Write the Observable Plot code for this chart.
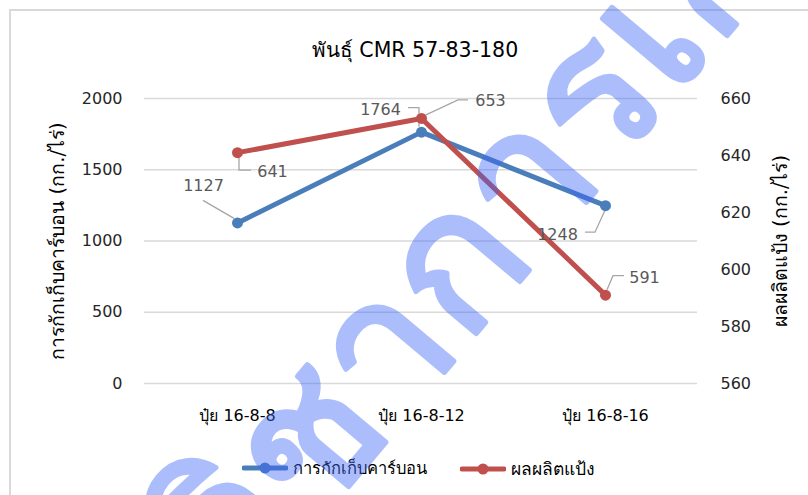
<!DOCTYPE html>
<html>
<head>
<meta charset="utf-8">
<script src="https://cdn.jsdelivr.net/npm/d3@7"></script>
<script src="https://cdn.jsdelivr.net/npm/@observablehq/plot@0.6"></script>
<style>
  html, body { margin: 0; padding: 0; background: #fff; }
  #wrap { position: relative; width: 808px; height: 495px; overflow: hidden; font-family: "DejaVu Sans", "Noto Sans", sans-serif; }
  #frame { position: absolute; left: 9px; top: 9px; width: 900px; height: 600px; border: 2px solid #d9d9d9; box-sizing: border-box; }
  #title { position: absolute; top: 33px; left: 415px; transform: translateX(-50%); font-size: 20.5px; color: #000; white-space: nowrap; }
  #chart { position: absolute; left: 0; top: 80px; }
  #legend { position: absolute; top: 455px; left: 0; width: 808px; height: 26px; font-size: 16.5px; color: #000; white-space: nowrap; }
  #legend .item { position: absolute; top: 0; display: flex; align-items: center; }
  #legend svg { margin-right: 5px; }
  #wm { position: absolute; left: 0; top: 0; pointer-events: none; }
</style>
</head>
<body>
<div id="wrap">
  <div id="frame"></div>
  <div id="title"></div>
  <div id="chart"></div>
  <div id="legend"></div>
  <svg id="wm" width="808" height="495"></svg>
</div>
<script>
// ---- data ----
const categories = ["ปุ๋ย 16-8-8", "ปุ๋ย 16-8-12", "ปุ๋ย 16-8-16"];
const carbon = [1127, 1764, 1248];       // การกักเก็บคาร์บอน (left axis)
const starch = [641, 653, 591];          // ผลผลิตแป้ง (right axis)
const leftTicks = [0, 500, 1000, 1500, 2000];
const rightTicks = [560, 580, 600, 620, 640, 660];
const seriesNames = ["การกักเก็บคาร์บอน", "ผลผลิตแป้ง"];
const titleText = "พันธุ์ CMR 57-83-180";
const leftTitle = "การกักเก็บคาร์บอน (กก./ไร่)";
const rightTitle = "ผลผลิตแป้ง (กก./ไร่)";
const watermarkText = "วิชาการเกษตร";

// ---- styles (pixel offsets of data labels & leader lines) ----
const colors = ["#4a7ebb", "#c0504d"];
const legendLeft = [242, 460];
const carbonLabelStyle = [
  {dx: -34, dy: -37, leader: [[-34, -22], [-3, -4]]},
  {dx: -41, dy: -22, leader: [[-13, -24], [-2, -24], [-2, -5]]},
  {dx: -48, dy: 29, leader: [[-20, 27], [-10, 27], [0, 5]]}
];
const starchLabelStyle = [
  {dx: 35, dy: 19, leader: [[2, 5], [2, 18], [14, 18]]},
  {dx: 69, dy: -18, leader: [[47, -18], [37, -18], [5, -3]]},
  {dx: 39, dy: -17, leader: [[19, -19], [8, -19], [2, -5]]}
];

// right axis values mapped into left-axis units
const toLeft = d3.scaleLinear().domain([560, 660]).range([0, 2000]);

const rows = [];
categories.forEach((c, i) => {
  rows.push({cat: c, series: seriesNames[0], value: carbon[i], y: carbon[i], i, s: 0});
});
categories.forEach((c, i) => {
  rows.push({cat: c, series: seriesNames[1], value: starch[i], y: toLeft(starch[i]), i, s: 1});
});
const styleOf = d => (d.s === 0 ? carbonLabelStyle : starchLabelStyle)[d.i];

document.getElementById("title").textContent = titleText;

function leaderMark(index, scales) {
  const g = d3.create("svg:g");
  rows.forEach(d => {
    const x0 = scales.x(d.cat), y0 = scales.y(d.y);
    const pts = styleOf(d).leader.map(([a, b]) => [x0 + a, y0 + b]);
    g.append("path")
      .attr("d", d3.line()(pts))
      .attr("fill", "none")
      .attr("stroke", "#a6a6a6")
      .attr("stroke-width", 1.3);
  });
  return g.node();
}

const labelMarks = rows.map(d => Plot.text([d], {
  x: "cat", y: "y", text: r => String(r.value),
  dx: styleOf(d).dx, dy: styleOf(d).dy,
  fill: "#595959", fontSize: 16
}));

const chart = Plot.plot({
  width: 808,
  height: 365,
  marginTop: 18,
  marginBottom: 62,
  marginLeft: 144,
  marginRight: 111,
  style: {fontFamily: "DejaVu Sans, Noto Sans, sans-serif", background: "transparent", overflow: "visible"},
  x: {type: "point", domain: categories, padding: 0.5},
  y: {domain: [0, 2000]},
  marks: [
    Plot.gridY(leftTicks, {stroke: "#d9d9d9", strokeOpacity: 1, strokeWidth: 1.6}),
    Plot.axisY(leftTicks, {anchor: "left", tickSize: 0, tickPadding: 22, fontSize: 16, fill: "#262626", label: null,
      tickFormat: d => String(d)}),
    Plot.axisY(rightTicks.map(toLeft), {anchor: "right", tickSize: 0, tickPadding: 23, fontSize: 16, fill: "#262626", label: null,
      tickFormat: d => String(Math.round(toLeft.invert(d)))}),
    Plot.axisX({tickSize: 0, tickPadding: 26, fontSize: 16, fill: "#000", label: null}),
    Plot.text([leftTitle], {frameAnchor: "left", textAnchor: "middle", dx: -87, rotate: -90, fontSize: 19.5, fill: "#000"}),
    Plot.text([rightTitle], {frameAnchor: "right", textAnchor: "middle", dx: 83, rotate: -90, fontSize: 19.5, fill: "#000"}),
    leaderMark,
    Plot.line(rows.filter(d => d.s === 0), {x: "cat", y: "y", stroke: colors[0], strokeWidth: 5, strokeLinecap: "round", strokeLinejoin: "round"}),
    Plot.dot(rows.filter(d => d.s === 0), {x: "cat", y: "y", r: 5.5, fill: colors[0]}),
    Plot.line(rows.filter(d => d.s === 1), {x: "cat", y: "y", stroke: colors[1], strokeWidth: 5, strokeLinecap: "round", strokeLinejoin: "round"}),
    Plot.dot(rows.filter(d => d.s === 1), {x: "cat", y: "y", r: 5.5, fill: colors[1]}),
    ...labelMarks
  ]
});
document.getElementById("chart").appendChild(chart);

// legend
const legend = d3.select("#legend");
seriesNames.forEach((name, k) => {
  const item = legend.append("div").attr("class", "item").style("left", legendLeft[k] + "px");
  const sw = item.append("svg").attr("width", 46).attr("height", 14);
  sw.append("line").attr("x1", 2).attr("x2", 44).attr("y1", 7).attr("y2", 7)
    .attr("stroke", colors[k]).attr("stroke-width", 5).attr("stroke-linecap", "round");
  sw.append("circle").attr("cx", 23).attr("cy", 7).attr("r", 5.5).attr("fill", colors[k]);
  item.append("span").text(name).style("font-size", k === 1 ? "17.5px" : "16.5px");
});

// watermark overlay
d3.select("#wm").append("g")
  .attr("opacity", 0.42)
  .append("text")
  .attr("transform", "translate(245,610) rotate(-50)")
  .attr("font-size", 190)
  .attr("font-family", "DejaVu Sans, Noto Sans, sans-serif")
  .attr("fill", "rgb(60,100,250)")
  .attr("stroke", "rgb(60,100,250)")
  .attr("stroke-width", 5)
  .attr("stroke-linejoin", "round")
  .text(watermarkText);
</script>
</body>
</html>
